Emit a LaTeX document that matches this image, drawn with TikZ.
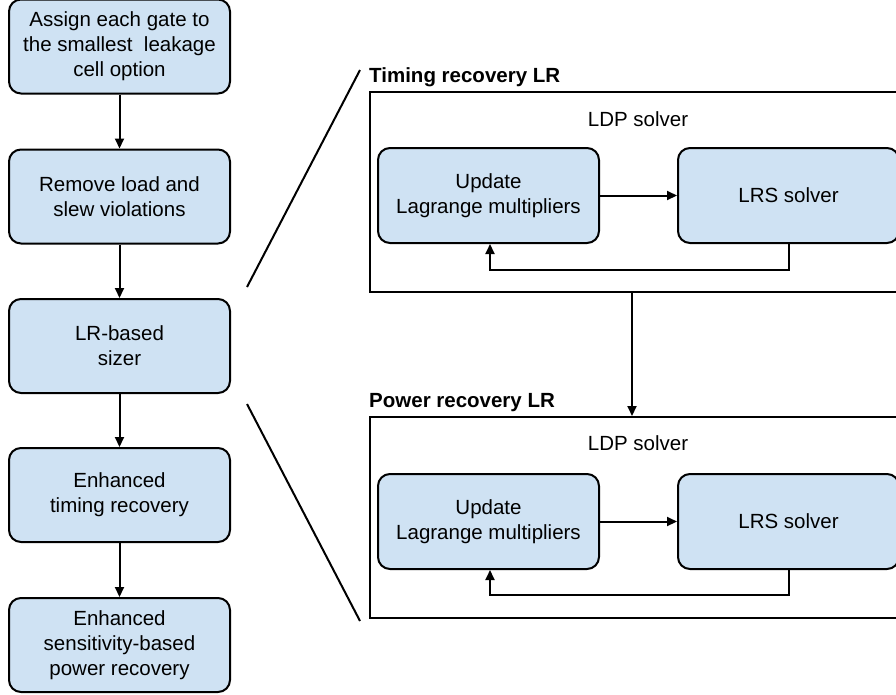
\documentclass[tikz,border=0pt]{standalone}
\usepackage{fontspec}
\setmainfont{Liberation Sans}
\usetikzlibrary{arrows.meta,calc}
\definecolor{boxfill}{HTML}{CFE2F3}
\tikzset{
  flowbox/.style={draw=black, line width=2pt, fill=boxfill, rounded corners=12pt,
    minimum width=221pt, minimum height=94pt, align=center, inner sep=0pt,
    font=\fontsize{20.5}{25}\selectfont},
  frame/.style={draw=black, line width=2pt, minimum width=530pt, inner sep=0pt},
  title/.style={anchor=base west, inner sep=0pt, font=\fontsize{20.5}{25}\selectfont\bfseries},
  plain/.style={inner sep=0pt, font=\fontsize{20.5}{25}\selectfont},
  arr/.style={line width=2pt, -{Triangle[length=10pt,width=9pt]}},
  ln/.style={line width=2pt}
}
\begin{document}
\begin{tikzpicture}[x=1pt,y=-1pt]
\useasboundingbox (0,0) rectangle (896,694);

% main flow on the left
\node[flowbox] (b1) at (119.5,46.5) {Assign each gate to\\the smallest\ \ leakage\\cell option};
\node[flowbox] (b2) at (119.5,196.5) {Remove load and\\slew violations};
\node[flowbox] (b3) at (119.5,346) {LR-based\\sizer};
\node[flowbox] (b4) at (119.5,495) {Enhanced\\timing recovery};
\node[flowbox] (b5) at (119.5,645) {Enhanced\\sensitivity-based\\power recovery};
\draw[arr] (b1) -- (b2);
\draw[arr] (b2) -- (b3);
\draw[arr] (b3) -- (b4);
\draw[arr] (b4) -- (b5);

% timing recovery stage
\node[frame, minimum height=200pt] (tr) at (635,192) {};
\node[title] (trt) at ($(tr.north west)+(0,-8.5)$) {Timing recovery LR};
\node[plain] (ldp1) at (638,119) {LDP solver};
\node[flowbox, minimum height=95pt] (u1) at (488.5,195.5) {Update\\Lagrange multipliers};
\node[flowbox, minimum height=95pt] (l1) at (788.5,195.5) {LRS solver};
\draw[arr] (u1) -- (l1);
\draw[arr] (l1.south) |- ($(u1.south)+(1.5,26)$) -- ($(u1.south)+(1.5,0)$);

% power recovery stage
\node[frame, minimum height=201pt] (pr) at (635,517.5) {};
\node[title] (prt) at ($(pr.north west)+(0,-9)$) {Power recovery LR};
\node[plain] (ldp2) at (638,443) {LDP solver};
\node[flowbox, minimum height=95pt] (u2) at (488.5,521.5) {Update\\Lagrange multipliers};
\node[flowbox, minimum height=95pt] (l2) at (788.5,521.5) {LRS solver};
\draw[arr] (u2) -- (l2);
\draw[arr] (l2.south) |- ($(u2.south)+(1.5,25)$) -- ($(u2.south)+(1.5,0)$);

% hand-over between the two stages
\coordinate (mid) at (632,0);
\draw[arr] (tr.south -| mid) -- (pr.north -| mid);

% zoom lines from the sizer to the detail
\coordinate (zt1) at (247,287);
\coordinate (zt2) at (360,70);
\coordinate (zb1) at (247,404);
\coordinate (zb2) at (360,621);
\draw[ln] (zt1) -- (zt2);
\draw[ln] (zb1) -- (zb2);
\end{tikzpicture}
\end{document}
